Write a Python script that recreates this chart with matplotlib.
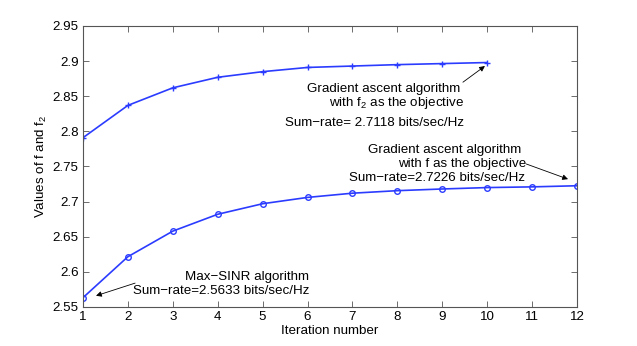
import numpy as np
import matplotlib.pyplot as plt

plt.rcParams['font.family'] = ['Liberation Sans', 'DejaVu Sans']
plt.rcParams['mathtext.fontset'] = 'custom'
plt.rcParams['mathtext.rm'] = 'Liberation Sans'
plt.rcParams['mathtext.it'] = 'Liberation Sans'

# values
iter_f2 = [1, 2, 3, 4, 5, 6, 7, 8, 9, 10]
val_f2 = [2.791, 2.837, 2.862, 2.877, 2.885, 2.891, 2.893, 2.895, 2.8965, 2.898]
iter_f = [1, 2, 3, 4, 5, 6, 7, 8, 9, 10, 11, 12]
val_f = [2.5633, 2.6216, 2.658, 2.682, 2.697, 2.706, 2.712, 2.7156, 2.718, 2.720, 2.721, 2.7226]

blue = '#2b3cff'
fs = 9.6

fig = plt.figure(figsize=(6.37, 3.46), dpi=100)
ax = fig.add_axes([83/637, 1 - 307/346, (577-83)/637, (307-26)/346])

ax.plot(iter_f2, val_f2, '-+', color=blue, lw=1.2, ms=5, mew=1.0)
ax.plot(iter_f, val_f, '-o', color=blue, lw=1.2, ms=4, mew=1.0, mfc='none')

ax.set_xlim(1, 12)
ax.set_ylim(2.55, 2.95)
ax.set_xticks(range(1, 13))
ax.set_yticks([2.55, 2.6, 2.65, 2.7, 2.75, 2.8, 2.85, 2.9, 2.95])
ax.set_yticklabels(['2.55', '2.6', '2.65', '2.7', '2.75', '2.8', '2.85', '2.9', '2.95'])
ax.tick_params(direction='in', length=4, width=0.6, color='#555555', labelsize=fs, top=True, right=True, pad=3)
for s in ax.spines.values():
    s.set_color('#555555')
    s.set_linewidth(0.8)

ax.set_xlabel('Iteration number', fontsize=fs, labelpad=1)
ax.set_ylabel('Values of f and f$_2$', fontsize=fs, labelpad=3)

arrow = dict(arrowstyle='-|>', color='black', lw=0.6, mutation_scale=8, shrinkA=0, shrinkB=0)

# f2 annotation
ax.annotate('', xy=(9.95, 2.893), xytext=(9.46, 2.870), arrowprops=arrow)
ax.text(9.40, 2.8605, 'Gradient ascent algorithm', ha='right', va='center', fontsize=fs)
ax.text(9.49, 2.8405, 'with f$_2$ as the objective', ha='right', va='center', fontsize=fs)
ax.text(9.49, 2.812, 'Sum\u2212rate= 2.7118 bits/sec/Hz', ha='right', va='center', fontsize=fs)

# f annotation
ax.annotate('', xy=(11.80, 2.732), xytext=(10.87, 2.7536), arrowprops=arrow)
ax.text(10.755, 2.7735, 'Gradient ascent algorithm', ha='right', va='center', fontsize=fs)
ax.text(10.87, 2.7536, 'with f as the objective', ha='right', va='center', fontsize=fs)
ax.text(10.84, 2.7332, 'Sum\u2212rate=2.7226 bits/sec/Hz', ha='right', va='center', fontsize=fs)

# max-sinr annotation
ax.annotate('', xy=(1.29, 2.566), xytext=(2.16, 2.584), arrowprops=arrow)
ax.text(6.03, 2.593, 'Max\u2212SINR algorithm', ha='right', va='center', fontsize=fs)
ax.text(6.05, 2.5732, 'Sum\u2212rate=2.5633 bits/sec/Hz', ha='right', va='center', fontsize=fs)

fig.savefig('out.png', dpi=100)
